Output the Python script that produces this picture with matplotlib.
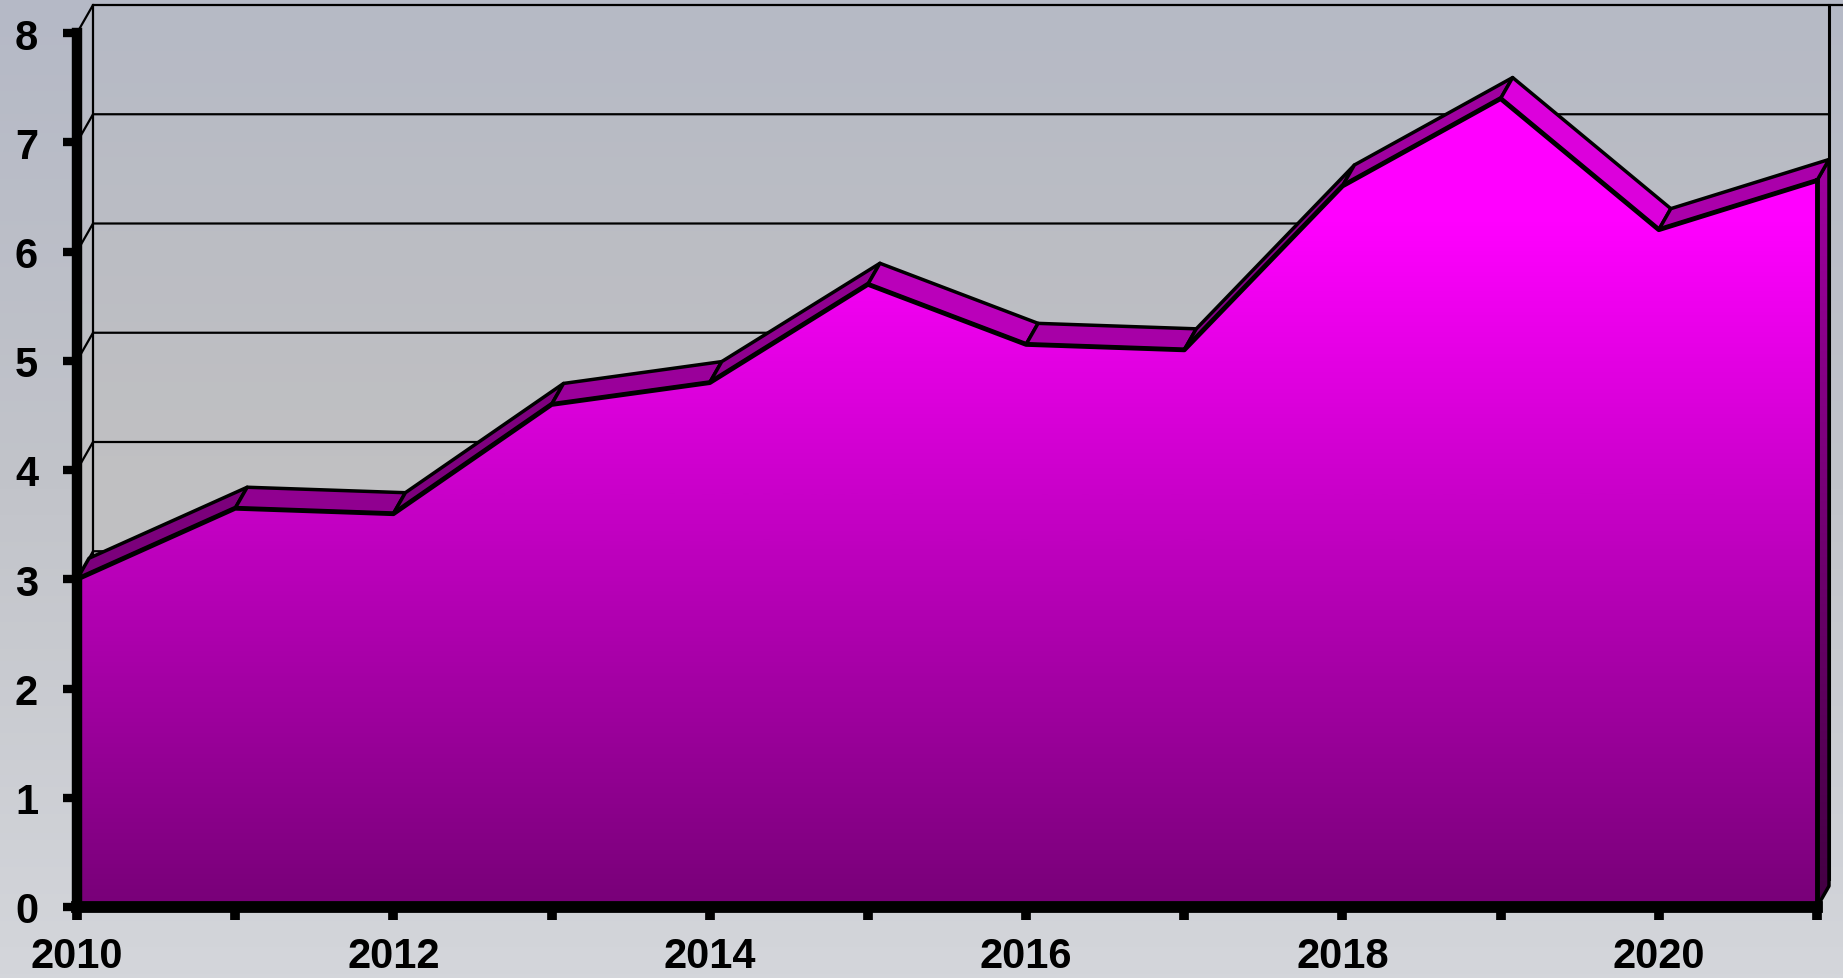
import matplotlib.pyplot as plt
import numpy as np
from matplotlib.colors import LinearSegmentedColormap, Normalize
from matplotlib.patches import Polygon

# data
years = list(range(2010, 2022))
values = [3.0, 3.65, 3.6, 4.6, 4.8, 5.7, 5.15, 5.1, 6.6, 7.4, 6.2, 6.65]
y_ticks = list(range(0, 9))
x_labels = [str(y) if y % 2 == 0 else "" for y in years]

plt.rcParams['font.family'] = ['Liberation Sans', 'DejaVu Sans']
plt.rcParams['font.weight'] = 'bold'

W, H = 1843, 979
fig = plt.figure(figsize=(W / 100, H / 100), dpi=100)

# front plot box (pixels)
px_l, px_r, px_b, px_t = 77, 1817, 71, 945
xlo, xhi = years[0], years[-1]
ylo, yhi = 0, 8
sx = (px_r - px_l) / (xhi - xlo)
sy = (px_t - px_b) / (yhi - ylo)

# fake 3d depth offsets, in data units
wdx, wdy = 16 / sx, 28 / sy   # walls
adx, ady = 12 / sx, 21 / sy   # area thickness
wall_r = xhi + adx            # back wall right edge

# background axes spanning the figure, same data scale as the front axes
bg = fig.add_axes([0, 0, 1, 1], zorder=0)
bx0, bx1 = xlo - px_l / sx, xlo + (W - px_l) / sx
by0, by1 = ylo - px_b / sy, ylo + (H - px_b) / sy

grad = np.linspace(0, 1, 256)[:, None]
bg_cmap = LinearSegmentedColormap.from_list('bg', ['#d4d6db', '#c2c4ca', '#b5b9c6'])
bg.imshow(grad, extent=[bx0, bx1, by0, by1], aspect='auto', origin='lower',
          cmap=bg_cmap, zorder=0)

# walls
wall = Polygon([(xlo, ylo), (xlo + wdx, ylo + wdy), (wall_r, ylo + wdy),
                (wall_r, yhi + wdy), (xlo + wdx, yhi + wdy), (xlo, yhi)],
               closed=True, fc='none', ec='none')
bg.add_patch(wall)
wall_cmap = LinearSegmentedColormap.from_list('wall', ['#c4c4c4', '#c0c0c2', '#b6bac6'])
im = bg.imshow(grad, extent=[xlo, wall_r, ylo, yhi + wdy], aspect='auto',
               origin='lower', cmap=wall_cmap, zorder=1)
im.set_clip_path(wall)

for v in y_ticks[1:]:
    x_end = bx1 if v == yhi else wall_r
    bg.plot([xlo, xlo + wdx, x_end], [v, v + wdy, v + wdy], color='black', lw=1.6, zorder=2)
bg.plot([xlo + wdx, xlo + wdx], [ylo + wdy, yhi + wdy], color='black', lw=1.6, zorder=2)
bg.plot([wall_r, wall_r], [ylo + wdy, yhi + wdy], color='black', lw=2.2, zorder=2)

# area colours
area_cmap = LinearSegmentedColormap.from_list('area', ['#780078', '#ff00ff'])
norm = Normalize(0, 6.3)
side_cmap = LinearSegmentedColormap.from_list('side', ['#420042', '#a000a0'])

# right side face
side = Polygon([(xhi, 0), (xhi, values[-1]), (xhi + adx, values[-1] + ady), (xhi + adx, ady)],
               closed=True, fc='none', ec='black', lw=2.5, joinstyle='round', zorder=4)
bg.add_patch(side)
im = bg.imshow(grad, extent=[xhi, xhi + adx, 0, values[-1] + ady], aspect='auto',
               origin='lower', cmap=side_cmap, zorder=3)
im.set_clip_path(side)

# top ridge faces
for i in range(len(years) - 1):
    x0, x1 = years[i], years[i + 1]
    y0, y1 = values[i], values[i + 1]
    slope = (y1 - y0) / (x1 - x0)
    f = np.clip(0.72 - 0.12 * slope, 0.55, 0.9)
    r, g, b, _ = area_cmap(norm((y0 + y1) / 2))
    bg.add_patch(Polygon([(x0, y0), (x1, y1), (x1 + adx, y1 + ady), (x0 + adx, y0 + ady)],
                         closed=True, fc=(r * f, g * f, b * f), ec='black', lw=2.5,
                         joinstyle='round', zorder=4))

# front face
front = Polygon([(xlo, 0)] + list(zip(years, values)) + [(xhi, 0)],
                closed=True, fc='none', ec='none')
bg.add_patch(front)
im = bg.imshow(np.linspace(0, yhi, 400)[:, None], extent=[xlo, xhi, 0, yhi], aspect='auto',
               origin='lower', cmap=area_cmap, norm=norm, zorder=5)
im.set_clip_path(front)
bg.plot(years, values, color='black', lw=3.5, solid_joinstyle='round', zorder=6)
bg.plot([xhi, xhi], [0, values[-1]], color='black', lw=3.5, zorder=6)

bg.set_xlim(bx0, bx1)
bg.set_ylim(by0, by1)
bg.axis('off')

# front axes with the real ticks and axis lines
ax = fig.add_axes([px_l / W, px_b / H, (px_r - px_l) / W, (px_t - px_b) / H], zorder=1)
ax.patch.set_alpha(0)
ax.set_xlim(xlo, xhi)
ax.set_ylim(ylo, yhi)
ax.set_xticks(years)
ax.set_xticklabels(x_labels)
ax.set_yticks(y_ticks)
for s in ['top', 'right']:
    ax.spines[s].set_visible(False)
ax.spines['left'].set_linewidth(7.5)
ax.spines['bottom'].set_linewidth(8.5)
ax.spines['left'].set_capstyle('projecting')
ax.spines['bottom'].set_capstyle('projecting')
ax.tick_params(axis='y', length=10, width=6, pad=18, labelsize=30)
ax.tick_params(axis='x', length=9, width=7, pad=12, labelsize=30)

fig.savefig('out.png', dpi=100)
